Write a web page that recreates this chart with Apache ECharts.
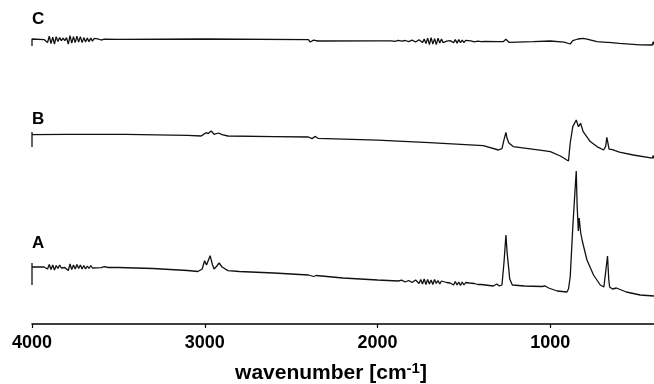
<!DOCTYPE html>
<html>
<head>
<meta charset="utf-8">
<script src="https://cdn.jsdelivr.net/npm/echarts@6/dist/echarts.min.js"></script>
<style>
  html, body { margin: 0; padding: 0; background: #fff; }
  #chart { width: 654px; height: 384px; }
</style>
</head>
<body>
<div id="chart"></div>
<script>
// x ticks (wavenumber, reversed axis)
const xTicks = [1000, 2000, 3000, 4000];
const traceNames = ['A', 'B', 'C'];
// vertical offsets of the traces (arbitrary units)
const offsets = [57, 189.4, 284.4];

// spectra as [wavenumber, signal relative to own baseline]
const traceA = [
  [4000, -18], [4000, 4], [4000, 0],
  [3930, 0], [3920, 1.5], [3910, -2], [3900, 2.5], [3890, -2.5], [3880, 2], [3870, -3],
  [3860, 1.5], [3850, -1.5], [3840, 2], [3830, -1], [3820, 1], [3810, -0.5], [3800, 1.5],
  [3790, -3.5], [3780, 3], [3770, -2.5], [3760, 2], [3750, -2], [3740, 2.5], [3730, -1.5],
  [3720, 2], [3710, -2], [3700, 1.5], [3690, -2], [3680, 1], [3670, -1.5], [3660, 1.5],
  [3650, -1], [3640, 1], [3630, -0.8], [3620, 0.5], [3600, -0.6], [3580, 0.3], [3560, -0.5],
  [3500, -0.5], [3300, -1.5], [3100, -3.5], [3040, -4.5], [3015, -2], [3001, 6.3],
  [2990, 2], [2980, 3], [2969, 11.3], [2955, 2], [2946, -2], [2930, 1], [2917, 4],
  [2900, 0], [2866, -3.6], [2800, -4.5], [2600, -6], [2400, -8], [2370, -9.5],
  [2355, -8.5], [2345, -9.8], [2200, -11], [2000, -13],
  [1880, -14], [1860, -13.2], [1840, -15], [1820, -13.5], [1800, -15.5], [1780, -13],
  [1760, -16.5], [1750, -12.5], [1740, -17], [1730, -12], [1720, -17.5], [1710, -12.5],
  [1700, -17], [1690, -13], [1680, -17.5], [1670, -12.5], [1660, -16.5], [1650, -13.5],
  [1640, -17], [1630, -14], [1620, -16], [1600, -15.5], [1580, -16], [1570, -14],
  [1560, -18], [1550, -14.5], [1540, -18], [1530, -15], [1520, -18.5], [1510, -15],
  [1500, -18], [1490, -15.5], [1480, -17.5], [1470, -16], [1460, -17.5], [1440, -16.5],
  [1420, -17.5], [1400, -17.5], [1330, -19], [1310, -17], [1295, -19], [1280, -18],
  [1268, 5], [1257, 32], [1250, 14], [1244, 4], [1235, -12], [1220, -18], [1150, -19],
  [1050, -19.5], [1030, -19], [1010, -21], [960, -24], [904, -25], [895, -22],
  [885, -10], [870, 40], [858, 74], [850, 96], [845, 62], [838, 36], [833, 49],
  [825, 35], [815, 26], [810, 24], [788, 7], [750, -8], [711, -18], [701, -17],
  [690, -20], [682, -20], [669, 11], [662, -12], [657, -20], [640, -22], [618, -21],
  [614, -19.5], [608, -23], [560, -25], [480, -28], [400, -29]
];

const traceB = [
  [4000, -12.4], [4000, 2.6], [4000, 0],
  [3800, 0.2], [3460, 0.3], [3100, -0.8], [3021, -1.4], [3005, 0.5], [2992, 1.9],
  [2980, 1], [2963, 3.6], [2946, 0.3], [2920, 1.6], [2900, 0], [2866, -1.4],
  [2600, -2], [2400, -2.4], [2380, -4], [2360, -1.8], [2345, -3.7], [2000, -5.5],
  [1700, -8], [1388, -11.1], [1300, -15.4], [1280, -14], [1268, -5], [1257, 2.3],
  [1250, -4], [1240, -8.4], [1215, -12], [1040, -16], [1000, -17], [942, -21.4],
  [895, -26.4], [885, -8.4], [870, 8], [850, 14.6], [837, 7.9], [825, 11.3],
  [810, 3], [769, -7], [730, -12], [692, -15.4], [680, -12], [673, -2.7],
  [660, -14.5], [640, -15], [625, -16], [614, -15.5], [600, -17.5], [520, -20.4],
  [410, -23.5], [404, -21], [400, -24]
];

const traceC = [
  [4000, -6.4], [4000, 0.6], [4000, 0],
  [3930, 0], [3920, 2], [3910, -3], [3900, 3.5], [3890, -4], [3880, 2.5], [3870, -4.5],
  [3860, 3], [3850, -2], [3840, 2], [3830, -1], [3820, 1.5], [3810, -1], [3800, 2],
  [3790, -4.5], [3780, 4], [3770, -3.5], [3760, 3], [3750, -3], [3740, 3.5], [3730, -2.5],
  [3720, 3], [3710, -3], [3700, 2], [3690, -2.5], [3680, 1.5], [3670, -2], [3660, 1.5],
  [3650, -1.5], [3640, 1.2], [3630, -0.8], [3620, 0.8], [3600, -0.4], [3580, 0.5],
  [3500, 0.3], [3000, 0.6], [2400, 0], [2390, -2.4], [2370, -0.5], [2345, -1.4],
  [2000, -1.2],
  [1920, -1.2], [1900, -1.8], [1880, -0.8], [1860, -1.6], [1840, -0.9], [1820, -2],
  [1800, -0.6], [1780, -2.4], [1760, -0.2], [1740, -3], [1730, 0.5], [1720, -4],
  [1710, 1.5], [1700, -5], [1690, 2], [1680, -4.5], [1670, 1], [1660, -5], [1650, 1.5],
  [1640, -3.5], [1630, 0.5], [1620, -3], [1600, -1.5], [1580, -1], [1560, -3],
  [1550, 0], [1540, -3.5], [1530, 0], [1520, -3], [1510, -0.5], [1500, -3],
  [1490, -0.8], [1480, -2.5], [1460, -1.2], [1440, -2.2], [1420, -1.5], [1400, -2],
  [1380, -1.8], [1300, -2], [1273, -2.1], [1257, 0.3], [1240, -2.7], [1100, -2.1],
  [1000, -1.4], [920, -2.5], [885, -4.4], [870, -1], [840, 0.6], [810, 1.3],
  [788, 0.5], [730, -2.1], [675, -2.7], [669, -2], [663, -2.8], [600, -3.7],
  [480, -5.2], [410, -5.4], [404, -2], [400, -5]
];

const traces = [traceA, traceB, traceC];

const chart = echarts.init(document.getElementById('chart'));

const series = traces.map((t, i) => ({
  name: traceNames[i],
  type: 'line',
  showSymbol: false,
  symbol: 'none',
  lineStyle: { color: '#111', width: 1.3 },
  data: t.map(p => [p[0], p[1] + offsets[i]])
}));

const labelTops = [235, 111, 11];

chart.setOption({
  animation: false,
  grid: { left: 32, right: 0, top: 0, bottom: 60, outerBoundsMode: 'none' },
  xAxis: {
    type: 'value',
    inverse: true,
    min: 400,
    max: 4000,
    axisLine: { lineStyle: { color: '#000', width: 1.5 } },
    axisTick: { customValues: xTicks, length: 4, lineStyle: { color: '#000', width: 1.2 } },
    axisLabel: {
      customValues: xTicks,
      formatter: v => String(v),
      color: '#000',
      fontSize: 18,
      fontWeight: 'bold',
      fontFamily: 'Liberation Sans',
      margin: 10
    },
    splitLine: { show: false },
    name: 'wavenumber [cm{sup|-1}]',
    nameLocation: 'middle',
    nameGap: 37,
    nameTextStyle: {
      color: '#000',
      fontSize: 21,
      fontWeight: 'bold',
      fontFamily: 'Liberation Sans',
      padding: [0, 24, 0, 0],
      rich: {
        sup: {
          fontSize: 15,
          fontWeight: 'bold',
          fontFamily: 'Liberation Sans',
          color: '#000',
          verticalAlign: 'top',
          padding: [0, 0, 10, 0]
        }
      }
    }
  },
  yAxis: {
    type: 'value',
    min: 0,
    max: 324,
    show: false
  },
  graphic: traceNames.map((n, i) => ({
    type: 'text',
    left: 32,
    top: labelTops[i],
    style: {
      text: n,
      fill: '#000',
      font: 'bold 17px "Liberation Sans"'
    }
  })),
  series: series
});
</script>
</body>
</html>
